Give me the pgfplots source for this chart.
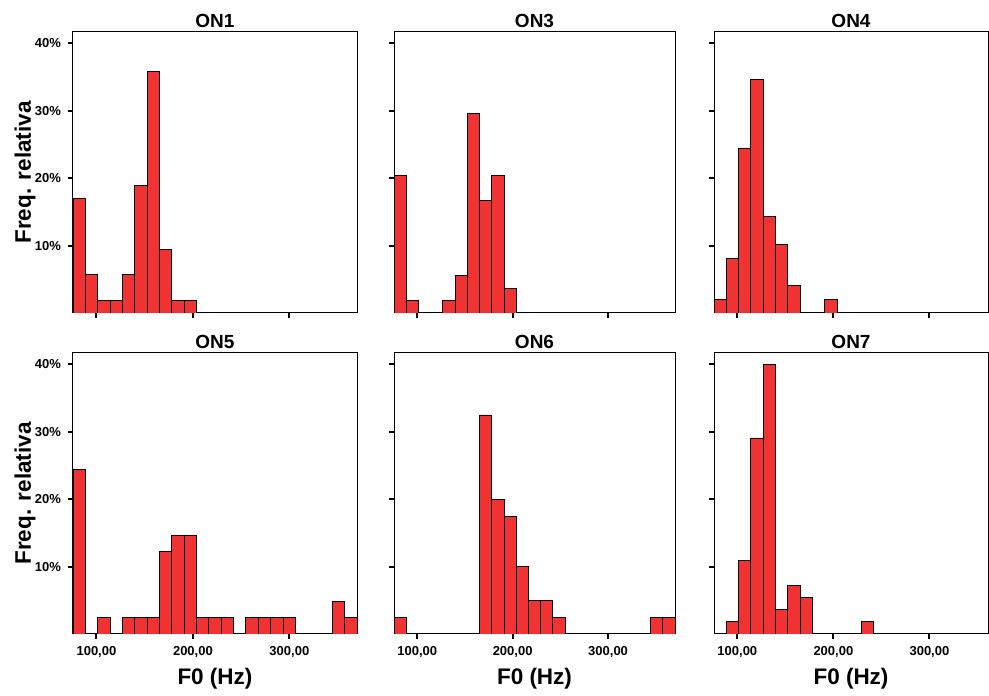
\documentclass[border=0pt]{standalone}
\usepackage{pgfplots}
\pgfplotsset{compat=1.18}
\usepackage{fontspec}
\setmainfont{Liberation Sans}
\definecolor{barred}{RGB}{240,50,50}
\pgfplotsset{
 hist/.style={
  scale only axis, height=140.5pt, ymin=0, ymax=41.7, xmin=75.7, xmax=370.1,
  axis line style={black, line width=0.5pt},
  ytick={10,20,30,40}, xtick={100,200,300},
  tick align=outside, xtick pos=bottom, ytick pos=left,
  major tick length=2.5pt, major tick style={black, line width=1pt},
  yticklabels={}, xticklabels={},
  tick label style={font=\fontsize{6.5}{7}\selectfont\bfseries},
  every axis title/.style={at={(0.5,1)},anchor=center,yshift=5.5pt,font=\fontsize{9.5}{11}\selectfont\bfseries},
  every axis x label/.style={at={(0.5,0)},anchor=center,yshift=-22.5pt,font=\fontsize{11.25}{13}\selectfont\bfseries},
  every axis y label/.style={at={(0,0.5)},xshift=-24pt,rotate=90,anchor=center,font=\fontsize{11.25}{13}\selectfont\bfseries},
  ybar, bar width=12.8, bar shift=0pt,
  cycle list={{fill=barred, draw=black, line width=0.6pt}},
 },
 ylab/.style={yticklabels={\textbf{10\%},\textbf{20\%},\textbf{30\%},\textbf{40\%}}, ylabel={Freq. relativa}},
 xlab/.style={xticklabels={\textbf{100,00},\textbf{200,00},\textbf{300,00}}, xlabel={F0 (Hz)}},
}
\begin{document}
\begin{tikzpicture}
\useasboundingbox (0,0) rectangle (494.5pt,347.5pt);
% Row 1
\begin{axis}[hist, ylab, width=142pt, at={(36.5pt,191pt)}, anchor=south west, title={ON1}]
\addplot coordinates {(82.1,16.98) (94.9,5.66) (107.7,1.89) (120.5,1.89) (133.3,5.66) (146.1,18.87) (158.9,35.85) (171.7,9.43) (184.5,1.89) (197.3,1.89)};
\end{axis}
\begin{axis}[hist, width=140.5pt, at={(197pt,191pt)}, anchor=south west, title={ON3}]
\addplot coordinates {(82.1,20.37) (94.9,1.85) (133.3,1.85) (146.1,5.56) (158.9,29.63) (171.7,16.67) (184.5,20.37) (197.3,3.70)};
\end{axis}
\begin{axis}[hist, width=137pt, xmax=361, at={(357pt,191pt)}, anchor=south west, title={ON4}]
\addplot coordinates {(82.1,2.04) (94.9,8.16) (107.7,24.49) (120.5,34.69) (133.3,14.29) (146.1,10.20) (158.9,4.08) (197.3,2.04)};
\end{axis}
% Row 2
\begin{axis}[hist, ylab, xlab, width=142pt, at={(36.5pt,30.5pt)}, anchor=south west, title={ON5}]
\addplot coordinates {(82.1,24.39) (107.7,2.44) (133.3,2.44) (146.1,2.44) (158.9,2.44) (171.7,12.20) (184.5,14.63) (197.3,14.63) (210.1,2.44) (222.9,2.44) (235.7,2.44) (261.3,2.44) (274.1,2.44) (286.9,2.44) (299.7,2.44) (350.9,4.88) (363.7,2.44)};
\end{axis}
\begin{axis}[hist, xlab, width=140.5pt, at={(197pt,30.5pt)}, anchor=south west, title={ON6}]
\addplot coordinates {(82.1,2.5) (171.7,32.5) (184.5,20.0) (197.3,17.5) (210.1,10.0) (222.9,5.0) (235.7,5.0) (248.5,2.5) (350.9,2.5) (363.7,2.5)};
\end{axis}
\begin{axis}[hist, xlab, width=137pt, xmax=361, at={(357pt,30.5pt)}, anchor=south west, title={ON7}]
\addplot coordinates {(94.9,1.82) (107.7,10.91) (120.5,29.09) (133.3,40.0) (146.1,3.64) (158.9,7.27) (171.7,5.45) (235.7,1.82)};
\end{axis}
\end{tikzpicture}
\end{document}
